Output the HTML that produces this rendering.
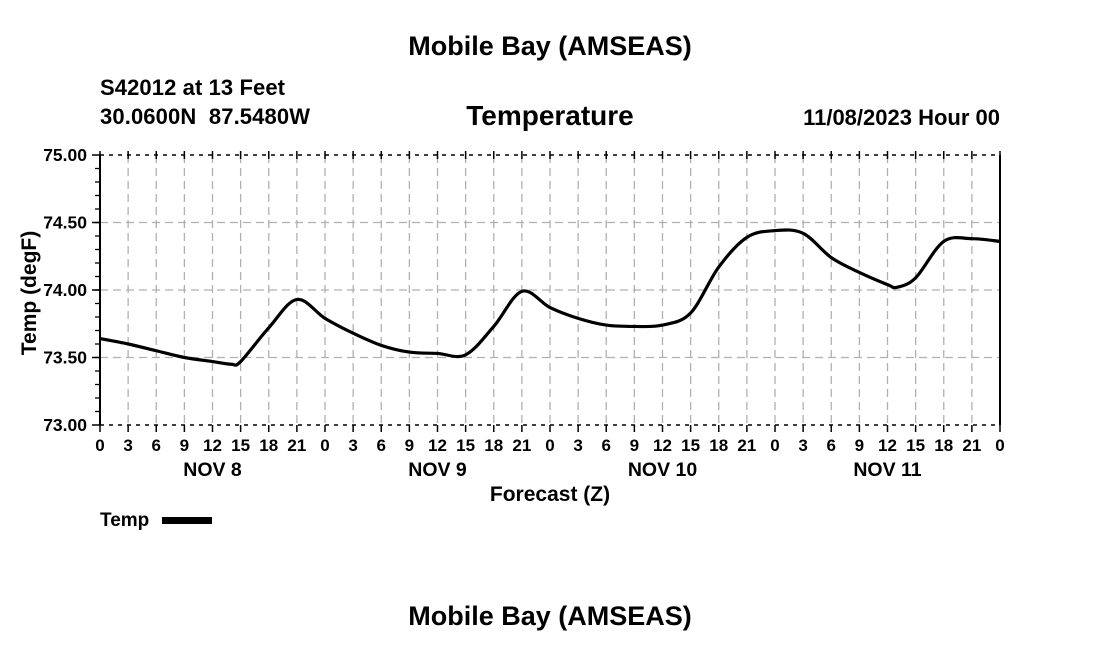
<!DOCTYPE html>
<html><head><meta charset="utf-8"><style>
html,body{margin:0;padding:0;background:#fff;}
svg text{font-family:"Liberation Sans",Arial,sans-serif;font-weight:bold;fill:#000;}
</style></head><body>
<svg id="chart" width="1100" height="650" xmlns="http://www.w3.org/2000/svg">
<text x="550" y="55" font-size="27" text-anchor="middle">Mobile Bay (AMSEAS)</text>
<text x="100" y="95" font-size="22" textLength="185">S42012 at 13 Feet</text>
<text x="100" y="124" font-size="22" textLength="210">30.0600N&#160;&#160;87.5480W</text>
<text x="550" y="125" font-size="28" text-anchor="middle">Temperature</text>
<text x="1000" y="125" font-size="22" text-anchor="end">11/08/2023 Hour 00</text>
<text transform="translate(36,293) rotate(-90)" font-size="21" text-anchor="middle">Temp (degF)</text>
<text x="550" y="501" font-size="21" text-anchor="middle">Forecast (Z)</text>
<text x="100" y="526" font-size="19">Temp</text>
<rect x="162" y="517" width="50" height="7" fill="#000"/>
<text x="550" y="625" font-size="27" text-anchor="middle">Mobile Bay (AMSEAS)</text>
<g id="grid"></g><g id="axes"></g><g id="series"></g>
</svg>
<script>
const hours = [0,3,6,9,12,14,15,18,21,24,27,30,33,36,39,42,45,48,51,54,57,60,63,66,69,72,75,78,81,84,85,87,90,93,96];
const temps = [73.64,73.60,73.55,73.50,73.47,73.45,73.47,73.72,73.93,73.79,73.68,73.59,73.54,73.53,73.52,73.73,73.99,73.87,73.79,73.74,73.73,73.74,73.83,74.17,74.39,74.44,74.42,74.24,74.13,74.04,74.02,74.09,74.36,74.38,74.36];
const yTicks = [73.00,73.50,74.00,74.50,75.00];
const dayLabels = ["NOV 8","NOV 9","NOV 10","NOV 11"];
const X0=100,X1=1000,Y0=425,Y1=155,HMAX=96,VMIN=73,VMAX=75;
const xs=h=>X0+(h/HMAX)*(X1-X0);
const ys=v=>Y0-(v-VMIN)/(VMAX-VMIN)*(Y0-Y1);
const NS="http://www.w3.org/2000/svg";
function mk(tag,parent,attrs){const e=document.createElementNS(NS,tag);for(const k in attrs)e.setAttribute(k,attrs[k]);parent.appendChild(e);return e;}
const grid=document.getElementById('grid'),axes=document.getElementById('axes'),series=document.getElementById('series');
for(let h=0;h<=HMAX;h+=3){
  const x=xs(h);
  if(h>0&&h<HMAX){const g=mk('line',grid,{x1:x,x2:x,y1:Y1,y2:Y0,stroke:'#b0b0b0','stroke-width':1.3,'stroke-dasharray':'8,5'});
  }
  const t1=mk('line',axes,{x1:x,x2:x,y1:Y1-4,y2:Y1+4,stroke:'#000','stroke-width':1.5});
  
  const t2=mk('line',axes,{x1:x,x2:x,y1:Y0,y2:Y0+7,stroke:'#000','stroke-width':1.5});
  
  const lb=mk('text',axes,{x:x,y:Y0+26,'font-size':17,'text-anchor':'middle'});
  
  lb.textContent=String(h%24);
}
dayLabels.forEach((d,i)=>{const t=mk('text',axes,{x:xs(i*24+12),y:Y0+51,'font-size':19.5,'text-anchor':'middle'});
  t.textContent=d;});
yTicks.forEach(v=>{const y=ys(v);
  if(v>VMIN&&v<VMAX){const g=mk('line',grid,{x1:X0,x2:X1,y1:y,y2:y,stroke:'#b0b0b0','stroke-width':1.3,'stroke-dasharray':'8,5'});
  }
  const t=mk('line',axes,{x1:X0-8,x2:X0,y1:y,y2:y,stroke:'#000','stroke-width':1.5});
  
  const lb=mk('text',axes,{x:X0-13,y:y+6,'font-size':17.5,'text-anchor':'end'});
  lb.textContent=v.toFixed(2);
});
for(let v=VMIN+0.1;v<VMAX-0.05;v+=0.1){const y=ys(v);
  const t=mk('line',axes,{x1:X0-5,x2:X0,y1:y,y2:y,stroke:'#000','stroke-width':1.3});
  }
[[X0,Y1,X1,Y1],[X0,Y0,X1,Y0]].forEach(c=>{const l=mk('line',axes,{x1:c[0],y1:c[1],x2:c[2],y2:c[3],stroke:'#000','stroke-width':1.5,'stroke-dasharray':'4,5'});
  });
const la=mk('line',axes,{x1:X0,y1:Y1,x2:X0,y2:Y0,stroke:'#000','stroke-width':2});

const ra=mk('line',axes,{x1:X1,y1:Y1,x2:X1,y2:Y0,stroke:'#000','stroke-width':2});

const pts=hours.map((h,i)=>[xs(h),ys(temps[i])]);
let d='M'+pts[0][0]+','+pts[0][1];
for(let i=0;i<pts.length-1;i++){const p0=pts[Math.max(0,i-1)],p1=pts[i],p2=pts[i+1],p3=pts[Math.min(pts.length-1,i+2)];
  const c1=[p1[0]+(p2[0]-p0[0])/6,p1[1]+(p2[1]-p0[1])/6],c2=[p2[0]-(p3[0]-p1[0])/6,p2[1]-(p3[1]-p1[1])/6];
  d+=` C${c1[0]},${c1[1]} ${c2[0]},${c2[1]} ${p2[0]},${p2[1]}`;}
const path=mk('path',series,{d:d,fill:'none',stroke:'#000','stroke-width':3.2,'stroke-linejoin':'round'});


</script>
</body></html>
